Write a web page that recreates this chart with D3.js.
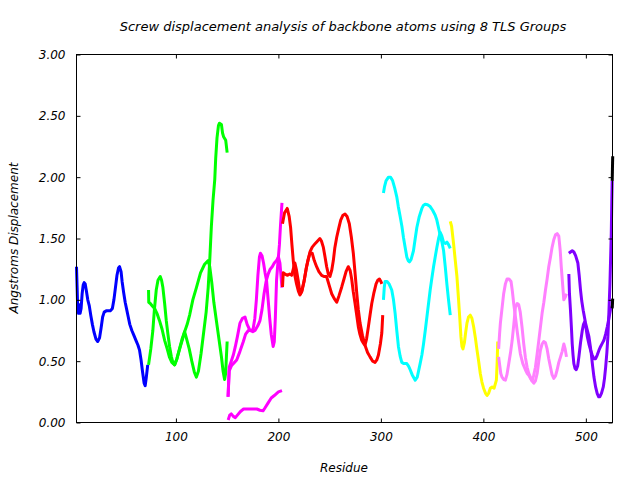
<!DOCTYPE html>
<html><head><meta charset="utf-8">
<script src="https://cdn.jsdelivr.net/npm/d3@7"></script>
<style>
body{margin:0;background:#fff;}
text{font-family:"DejaVu Sans",sans-serif;font-style:italic;font-size:12px;fill:#000;}
</style></head>
<body>
<svg id="chart" width="640" height="480"></svg>
<script>
const titleText = "Screw displacement analysis of backbone atoms using 8 TLS Groups";
const xLabel = "Residue";
const yLabel = "Angstroms Displacement";
const xTicks = [100, 200, 300, 400, 500];
const yTicks = [0, 0.5, 1.0, 1.5, 2.0, 2.5, 3.0];
const groupColors = ["#0000ff","#00ff00","#ff00ff","#ff0000","#00ffff","#ffff00","#ff80ff","#8000ff","#000000"];

// group 1 (blue)
const g1a = [[3,1.27],[3.6,1.1],[4.2,0.92],[5,0.89],[5.8,0.96],[6.5,0.89],[7.5,0.93],[8.5,1.05],[9.5,1.12],[10.5,1.14],[11.5,1.13],[12.5,1.08],[14,1.0],[15.5,0.95],[17,0.87],[18.5,0.8],[20,0.74],[22,0.68],[23.7,0.66],[25.5,0.69],[27,0.77],[28.5,0.86],[30,0.9],[32,0.91],[34,0.91],[36,0.91],[38,0.93],[39.5,1.0],[41,1.1],[42.5,1.2],[44,1.26],[45,1.27],[46.5,1.23],[47.5,1.15],[49,1.06],[50.5,0.98],[52,0.92],[53.5,0.86],[55,0.8],[57,0.75],[59,0.71],[61,0.67],[63,0.63],[64.5,0.59],[66,0.51],[67.5,0.41],[69,0.32],[70,0.3],[71,0.36],[72.5,0.47]];
// group 2 (green)
const g2a = [[73.3,1.08],[73.5,0.98],[75,0.97],[77,0.95],[79.2,0.93],[81.5,0.89],[84,0.83],[86.5,0.76],[89,0.67],[91.5,0.6],[93.8,0.53],[96,0.49],[98.7,0.47],[101,0.52],[103.5,0.6],[106,0.68],[108.5,0.74],[110.5,0.68],[113,0.6],[115.5,0.5],[118,0.41],[120,0.37],[122,0.42],[124.5,0.56],[127,0.73],[129.5,0.9],[131.5,1.1],[133,1.32],[134.6,1.6],[136.2,1.81],[137.9,1.98],[138.8,2.15],[140.1,2.32],[141.5,2.42],[142.5,2.44],[144.4,2.43],[145.5,2.36],[146.5,2.33],[148.6,2.3],[150,2.2]];
const g2b = [[73.3,0.47],[75.5,0.6],[77.5,0.75],[79,0.92],[80.8,1.08],[82.5,1.16],[84.7,1.19],[86,1.16],[87.3,1.1],[89,0.97],[90.6,0.83],[92.2,0.72],[93.8,0.62],[95.5,0.54],[97,0.49],[98.7,0.47],[101,0.52],[104,0.61],[106.5,0.68],[108.5,0.74],[111,0.8],[113.5,0.88],[116.5,1.0],[120,1.1],[124,1.22],[128,1.29],[131.5,1.32],[133,1.27],[135,1.14],[137,0.98],[139.5,0.83],[142,0.68],[144.5,0.53],[146,0.42],[147.5,0.35],[148.5,0.4],[150,0.66]];
// group 3 (magenta)
const g3a = [[150.9,0.21],[152,0.45],[154,0.5],[156,0.55],[158,0.62],[160,0.7],[162.5,0.81],[165,0.85],[167.4,0.86],[169.5,0.8],[172.3,0.75],[175,0.74],[177.2,0.75],[180,0.79],[182,0.83],[184,0.92],[186,1.05],[188,1.15],[190,1.21],[192,1.25],[194,1.27],[196,1.3],[198.2,1.32],[200,1.35],[201.5,1.3],[203.5,1.1]];
const g3b = [[150.9,0.21],[152,0.42],[154,0.46],[156,0.48],[159.3,0.51],[162.5,0.58],[165.8,0.66],[168,0.72],[170.7,0.75],[173,0.75],[175.3,0.76],[177,0.85],[178.5,1.0],[180,1.2],[181.5,1.35],[182.5,1.38],[184,1.36],[185.5,1.3],[187,1.22],[188.4,1.16],[190,1.0],[191.5,0.85],[193,0.72],[194.9,0.62],[196,0.66],[197,0.85],[198.2,1.16],[199.5,1.3],[201,1.45],[202,1.6],[203.5,1.79]];
const g3c = [[151,0.02],[152.5,0.06],[154,0.07],[156,0.05],[158,0.04],[160,0.06],[163,0.09],[166,0.11],[170,0.11],[175,0.11],[179,0.11],[182,0.1],[185,0.095],[187,0.12],[190,0.16],[193,0.2],[196,0.22],[200,0.25],[203.5,0.26]];
// group 4 (red)
const g4a = [[204,1.62],[206,1.71],[208.6,1.745],[210.5,1.68],[211.9,1.59],[213.2,1.45],[214.5,1.32],[216,1.2],[217.7,1.13],[219.5,1.07],[221,1.04],[223,1.07],[225,1.15],[227.5,1.27],[230.8,1.39],[233,1.43],[236,1.46],[240.5,1.5],[242,1.48],[243.8,1.43],[245.5,1.35],[247.1,1.27],[248.7,1.21],[250.3,1.19],[252,1.24],[253.6,1.32],[255,1.42],[256.9,1.51],[258.8,1.58],[260.8,1.65],[263,1.69],[265,1.7],[267,1.68],[269.2,1.62],[271.2,1.51],[273.1,1.38],[275,1.2],[276.5,1.05],[278,0.92],[279.7,0.81],[282,0.71],[284.5,0.63],[287,0.57],[289.4,0.535],[292,0.5],[294.3,0.49],[296,0.51],[297.6,0.55],[299.5,0.64],[300.9,0.73],[301.8,0.875]];
const g4b = [[204,1.105],[204.7,1.22],[206.5,1.21],[209,1.2],[211,1.21],[213,1.2],[214.5,1.25],[216.1,1.3],[217.7,1.24],[219.3,1.16],[220.5,1.09],[221.6,1.05],[223,1.08],[225,1.15],[227,1.25],[229,1.33],[230.8,1.38],[233,1.38],[235,1.32],[237.3,1.27],[239.5,1.23],[242.2,1.2],[244.5,1.19],[247,1.19],[249.5,1.12],[252,1.05],[254.5,1.01],[256.9,0.98],[259,1.03],[261.8,1.105],[264,1.17],[266,1.23],[268.2,1.27],[270,1.24],[271.5,1.17],[273,1.07],[274.8,0.97],[276.5,0.87],[278,0.78],[279.5,0.72],[281.3,0.67],[283,0.645],[284.5,0.63],[286,0.68],[287.8,0.78],[289.5,0.88],[291.1,0.97],[293,1.05],[295.3,1.13],[297,1.16],[298.6,1.17],[300,1.15],[300.9,1.13]];
// group 5 (cyan)
const g5a = [[302.5,1.87],[303.5,1.92],[305,1.97],[307.4,2.0],[309.5,2.0],[311.5,1.97],[313.5,1.91],[315.5,1.84],[317,1.76],[318.8,1.68],[320.5,1.6],[322,1.51],[323.6,1.43],[325.3,1.35],[326.6,1.32],[327.9,1.31],[329.5,1.33],[331.8,1.4],[333.5,1.5],[335.1,1.59],[337.5,1.68],[340,1.745],[341.5,1.77],[343.2,1.78],[345.5,1.775],[348.1,1.76],[350.5,1.73],[353,1.69],[354.6,1.65],[356.2,1.59],[358,1.52],[359.6,1.47],[361.2,1.4],[362.8,1.27],[364.5,1.12],[366,1.0],[367.7,0.875]];
const g5b = [[302.5,1.0],[303.3,1.1],[304.1,1.15],[306,1.15],[308,1.13],[310.6,1.08],[312.3,1.0],[313.9,0.89],[315.5,0.75],[317.1,0.62],[318.8,0.54],[320.4,0.49],[322.5,0.48],[325.3,0.48],[327,0.46],[328.6,0.43],[330.5,0.39],[333.5,0.345],[335.5,0.37],[338.3,0.48],[340,0.55],[341.6,0.64],[343.3,0.75],[344.9,0.86],[346.5,0.97],[348.1,1.08],[349.8,1.18],[351.4,1.27],[353,1.35],[354.7,1.43],[356.3,1.5],[357.9,1.55],[359.5,1.52],[361.1,1.47],[362.7,1.46],[364.4,1.47],[366,1.45],[367.7,1.42]];
// group 6 (yellow)
const g6a = [[367.7,1.64],[369,1.6],[370.9,1.46],[372.6,1.32],[374.2,1.19],[375.8,1.0],[377,0.85],[378.1,0.7],[379.1,0.62],[380.1,0.6],[381.5,0.65],[382.8,0.74],[384,0.81],[385.5,0.86],[387.2,0.875],[388.8,0.85],[390.5,0.78],[392.2,0.69],[393.8,0.59],[395.4,0.5],[397,0.4],[398.6,0.33],[400.2,0.28],[402,0.24],[403.6,0.22],[405.2,0.24],[406.8,0.28],[408.5,0.29],[410.5,0.28],[412.7,0.345],[413.5,0.5],[414,0.66]];
// group 7 (pink)
const g7a = [[414.9,0.535],[415.9,0.47],[417,0.4],[418.2,0.37],[420,0.35],[421.5,0.345],[423,0.39],[424.8,0.48],[426.5,0.57],[428.1,0.67],[429.7,0.8],[431.3,0.94],[433,0.97],[434.5,0.96],[436,0.9],[437.7,0.78],[439.4,0.64],[441,0.53],[442.7,0.45],[444.3,0.4],[445.9,0.37],[447.5,0.34],[449.2,0.32],[450.8,0.34],[452.5,0.4],[454.1,0.5],[455.7,0.59],[457.3,0.64],[458.9,0.66],[460.6,0.65],[462.2,0.6],[463.8,0.52],[465.5,0.45],[467,0.39],[468.7,0.36],[470.4,0.38],[472,0.43],[473.6,0.49],[475.3,0.535],[476.9,0.58],[478.5,0.64],[479.8,0.6],[481.1,0.535]];
const g7b = [[414.9,0.6],[415.8,0.72],[416.6,0.81],[418.2,0.93],[419.8,1.05],[421.5,1.13],[423.1,1.17],[425,1.17],[427,1.15],[428.3,1.07],[429.6,0.97],[431.3,0.86],[432.9,0.75],[434.5,0.65],[436.1,0.56],[438.5,0.48],[441,0.43],[442.7,0.4],[444.3,0.385],[445.9,0.36],[447.5,0.34],[449,0.38],[450.8,0.45],[452.5,0.56],[454.1,0.67],[455.7,0.78],[457.3,0.89],[459,0.98],[460.6,1.08],[462.2,1.17],[463.8,1.27],[465.5,1.35],[467.1,1.43],[468.7,1.49],[470.4,1.53],[472,1.54],[473.6,1.52],[475,1.4],[476,1.27],[477.3,1.13],[478.5,1.0],[479.8,1.02],[481.1,1.05]];
// group 8 (purple)
const g8a = [[483.4,1.38],[485,1.39],[486.7,1.4],[488.3,1.39],[490,1.36],[492.2,1.3],[493.5,1.2],[494.8,1.08],[496,0.99],[497.4,0.915],[499.7,0.81],[501.5,0.75],[503,0.7],[504.2,0.63],[505.3,0.56],[506.6,0.46],[507.9,0.37],[509.5,0.29],[511.1,0.235],[512.5,0.21],[513.7,0.21],[515.3,0.24],[517,0.29],[518.2,0.36],[519.3,0.45],[520.5,0.57],[521.5,0.7],[522.5,0.9],[523.5,1.13],[524.2,1.35],[524.8,1.54],[525.3,1.8],[525.7,1.97]];
const g8b = [[483.4,1.21],[484,1.05],[485,0.915],[486,0.76],[486.7,0.64],[487.5,0.55],[488.3,0.48],[489.5,0.44],[490.6,0.43],[492,0.46],[493.2,0.535],[494.8,0.65],[496.5,0.75],[497.7,0.8],[498.8,0.82],[500,0.78],[501.4,0.7],[503,0.64],[504.6,0.59],[506.2,0.55],[507.8,0.52],[509.5,0.52],[511.1,0.55],[512.8,0.59],[514.4,0.62],[516,0.645],[517.6,0.67],[519.3,0.72],[520.9,0.78],[522.5,0.85],[524,0.92],[525.7,0.95]];
// trailing segment (black)
const g9a = [[525.7,1.97],[526.2,2.17]];
const g9b = [[525.7,0.93],[526.2,1.01]];

const series = [
  {data:g1a,c:0},{data:g2a,c:1},{data:g2b,c:1},
  {data:g3a,c:2},{data:g3b,c:2},{data:g3c,c:2},
  {data:g4a,c:3},{data:g4b,c:3},
  {data:g5a,c:4},{data:g5b,c:4},
  {data:g6a,c:5},
  {data:g7a,c:6},{data:g7b,c:6},
  {data:g8a,c:7},{data:g8b,c:7},
  {data:g9a,c:8},{data:g9b,c:8}
];

const svg = d3.select("#chart");
const L = 76.5, R = 612.5, T = 54.5, B = 422.5;
const x = d3.scaleLinear().domain([3, 526]).range([L, R]);
const y = d3.scaleLinear().domain([0, 3]).range([B, T]);

// data lines
const line = d3.line().x(d => x(d[0])).y(d => y(d[1]));
svg.append("g").selectAll("path").data(series).join("path")
  .attr("d", d => line(d.data))
  .attr("fill", "none")
  .attr("stroke", d => groupColors[d.c])
  .attr("stroke-width", 3)
  .attr("stroke-linejoin", "round");

// axes (inward ticks, mirrored)
const fmt = d3.format(".2f");
const ax = svg.append("g");
ax.append("g").attr("transform", `translate(0,${B})`)
  .call(d3.axisBottom(x).tickValues(xTicks).tickSizeInner(-4).tickSizeOuter(0).tickPadding(10).tickFormat(d3.format("d")));
ax.append("g").attr("transform", `translate(0,${T})`)
  .call(d3.axisTop(x).tickValues(xTicks).tickSizeInner(-4).tickSizeOuter(0).tickFormat(""));
ax.append("g").attr("transform", `translate(${L},0)`)
  .call(d3.axisLeft(y).tickValues(yTicks).tickSizeInner(-4).tickSizeOuter(0).tickPadding(11).tickFormat(fmt));
ax.append("g").attr("transform", `translate(${R},0)`)
  .call(d3.axisRight(y).tickValues(yTicks).tickSizeInner(-4).tickSizeOuter(0).tickFormat(""));
ax.selectAll(".domain").remove();
ax.selectAll("line").attr("stroke", "#000");
ax.selectAll("text").attr("font-family", "DejaVu Sans, sans-serif").attr("font-size", 12).attr("font-style", "italic").attr("fill", "#000");

svg.append("rect").attr("x", L).attr("y", T).attr("width", R - L).attr("height", B - T)
  .attr("fill", "none").attr("stroke", "#000").attr("stroke-width", 1);

svg.append("text").attr("x", 343).attr("y", 31).attr("text-anchor", "middle").style("font-size", "13px").text(titleText);
svg.append("text").attr("x", 344).attr("y", 472).attr("text-anchor", "middle").text(xLabel);
svg.append("text").attr("transform", "translate(18,238) rotate(-90)").attr("text-anchor", "middle").text(yLabel);
</script>
</body></html>
